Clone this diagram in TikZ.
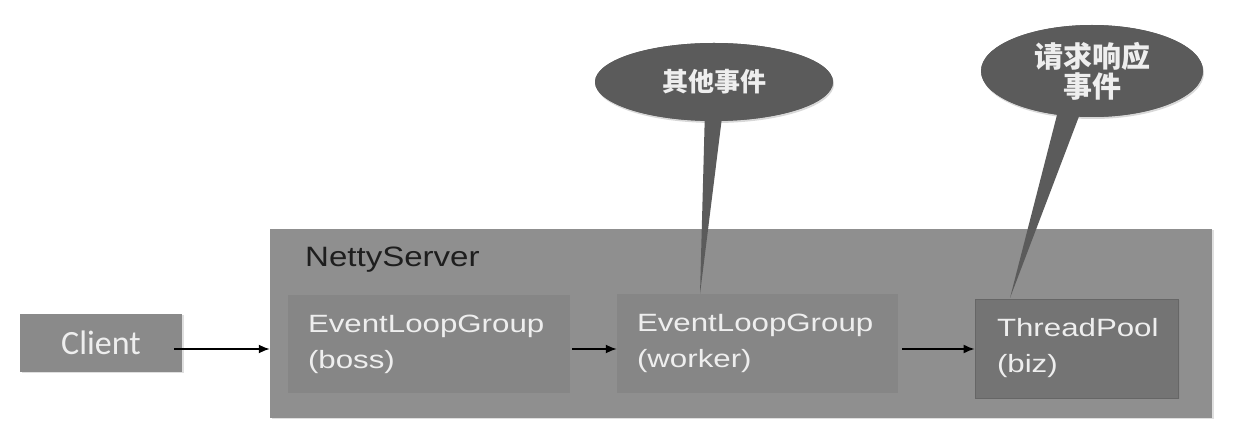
\documentclass[tikz,border=0pt]{standalone}
\usepackage{fontspec}
\setmainfont{Liberation Sans}
\newfontfamily\boxfont[FakeStretch=1.25]{Liberation Sans}
\newfontfamily\titlefont[FakeStretch=1.18]{Liberation Sans}
\newfontfamily\clientfont{Carlito}
\newfontfamily\cjk{Noto Sans CJK SC}
\usetikzlibrary{shapes.geometric,shadows,arrows.meta}
\definecolor{serverfill}{HTML}{8F8F8F}
\definecolor{groupfill}{HTML}{868686}
\definecolor{poolfill}{HTML}{747474}
\definecolor{pooldraw}{HTML}{666666}
\definecolor{clientfill}{HTML}{8A8A8A}
\definecolor{bubblefill}{HTML}{5B5B5B}
\definecolor{boxtext}{HTML}{EEEEEE}
\definecolor{titletext}{HTML}{1E1E1E}
\tikzset{
  softshadow/.style={drop shadow={opacity=0.25,shadow xshift=1.5pt,shadow yshift=-1.5pt}},
  serverbox/.style={rectangle,fill=serverfill,softshadow,inner sep=0pt},
  groupbox/.style={rectangle,fill=groupfill,text=boxtext,align=left,
    inner xsep=20pt,inner ysep=0pt,font=\boxfont\fontsize{25}{36}\selectfont},
  poolbox/.style={rectangle,fill=poolfill,draw=pooldraw,line width=0.8pt,text=boxtext,align=left,
    inner xsep=22pt,inner ysep=0pt,font=\boxfont\fontsize{25}{36}\selectfont,softshadow},
  clientbox/.style={rectangle,fill=clientfill,text=boxtext,softshadow,
    font=\clientfont\fontsize{34}{40}\selectfont,inner sep=0pt},
  bubble/.style={ellipse,fill=bubblefill,text=boxtext,inner sep=0pt,align=center,
    drop shadow={opacity=0.3,shadow xshift=1pt,shadow yshift=-2pt}},
  bubbletop/.style={ellipse,fill=bubblefill,text=boxtext,inner sep=0pt,align=center},
  arr/.style={draw=black,line width=1.8pt,-{Latex[length=11pt,width=9pt]}},
}
\begin{document}
\begin{tikzpicture}[x=1pt,y=-1pt]
\useasboundingbox[fill=white] (0,0) rectangle (1243,443);

% containers and boxes
\node[serverbox,minimum width=942pt,minimum height=189pt] (netty) at (741,323.5) {};
\node[anchor=base west,text=titletext,inner sep=0pt,font=\titlefont\fontsize{28}{32}\selectfont] (nettylabel) at (305,267) {NettyServer};

\node[clientbox,minimum width=162pt,minimum height=58pt] (client) at (101,343) {Client};

\node[groupbox,minimum width=282pt,minimum height=98pt,text width=242pt] (boss) at (429,344) {EventLoopGroup\\(boss)};
\node[groupbox,minimum width=281pt,minimum height=99pt,text width=241pt] (worker) at (757.5,343.5) {EventLoopGroup\\(worker)};

% bubbles with tails
\coordinate (tip1) at (700,294);
\coordinate (tip2) at (1010,298);
\node[bubble,minimum width=238pt,minimum height=78pt,font=\cjk\bfseries\fontsize{26}{30}\selectfont] (bubble1) at (714,82) {其他事件};
\node[bubble,minimum width=222pt,minimum height=92pt,font=\cjk\bfseries\fontsize{29}{30}\selectfont] (bubble2) at (1092,71) {请求响应\\事件};
\fill[bubblefill] ([xshift=-9pt,yshift=12pt]bubble1.south) -- ([xshift=9pt,yshift=12pt]bubble1.south) -- (tip1) -- cycle;
\fill[bubblefill] ([xshift=-32pt,yshift=14pt]bubble2.south) -- ([xshift=-8pt,yshift=14pt]bubble2.south) -- (tip2) -- cycle;
\node[bubbletop,minimum width=238pt,minimum height=78pt,font=\cjk\bfseries\fontsize{26}{30}\selectfont] (bubble1top) at (bubble1) {其他事件};
\node[bubbletop,minimum width=222pt,minimum height=92pt,font=\cjk\bfseries\fontsize{29}{30}\selectfont] (bubble2top) at (bubble2) {请求响应\\事件};

\node[poolbox,minimum width=203pt,minimum height=99pt,text width=159pt] (pool) at (1076.5,348.5) {ThreadPool\\(biz)};

% connectors
\draw[arr] ([xshift=-8pt,yshift=-6pt]client.east) -- ([yshift=-6pt]client.east -| netty.west);
\draw[arr] ([xshift=2pt,yshift=-5pt]boss.east) -- ([yshift=-5pt]boss.east -| worker.west);
\draw[arr] ([xshift=4pt,yshift=-5.5pt]worker.east) -- ([yshift=-5.5pt]worker.east -| pool.west);
\end{tikzpicture}
\end{document}
